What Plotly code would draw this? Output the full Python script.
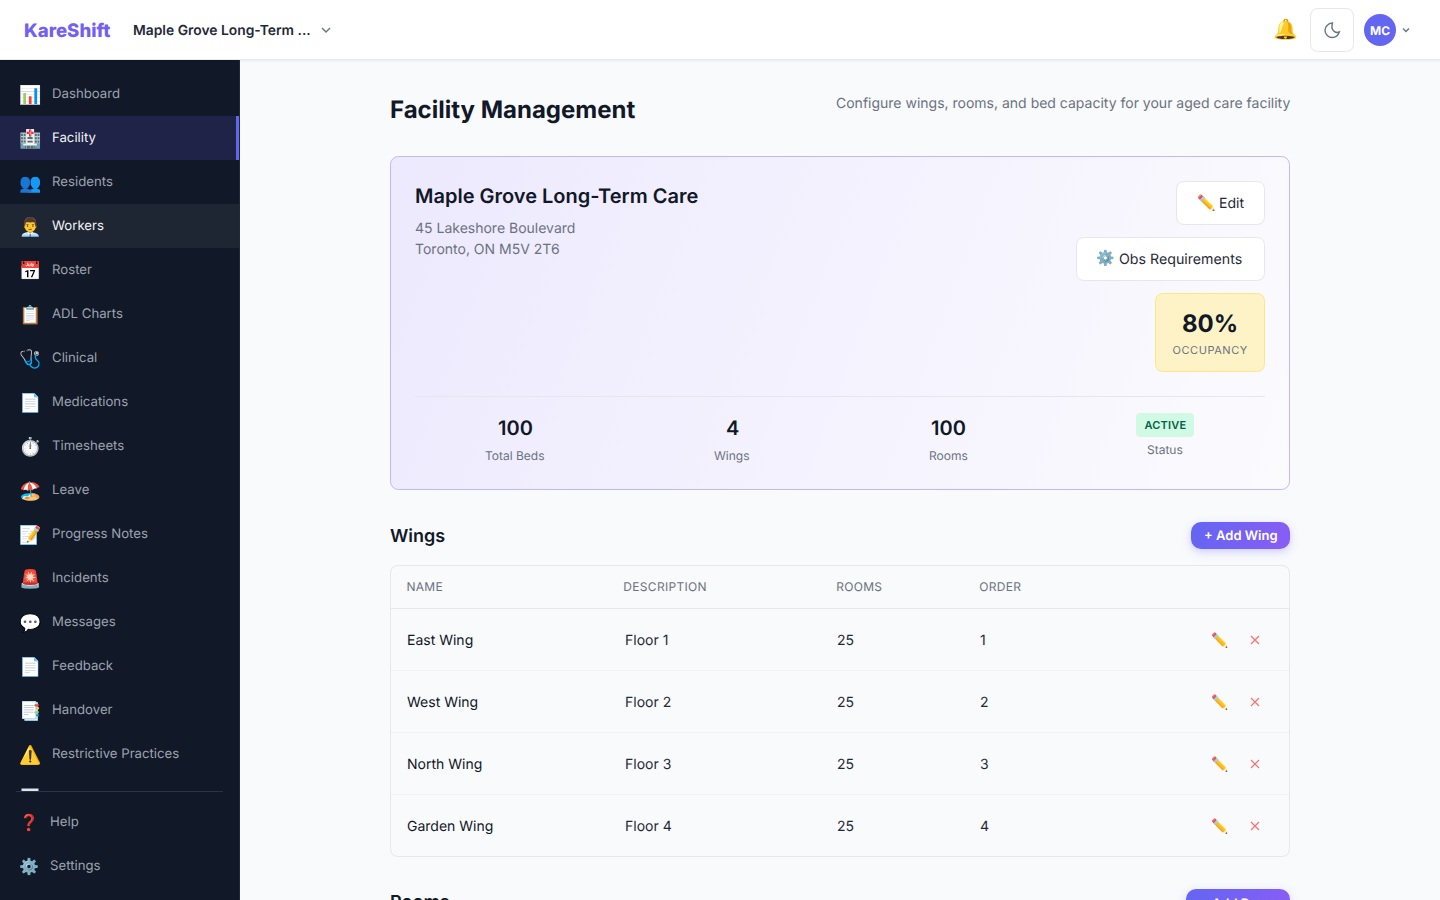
from urllib.parse import quote
import plotly.graph_objects as go

W, H = 1440, 900
FONT = "Inter"
EMOJI = "Noto Color Emoji, Noto Sans"

nav_labels = ["Dashboard", "Facility", "Residents", "Workers", "Roster", "ADL Charts", "Clinical",
              "Medications", "Timesheets", "Leave", "Progress Notes", "Incidents", "Messages",
              "Feedback", "Handover", "Restrictive Practices"]
nav_icons = ["📊", "🏥", "👥", "👨‍💼", "📅", "📋", "🩺", "📄", "⏱️", "🏖️", "📝", "🚨", "💬", "📄", "📑", "⚠️"]
foot_labels = ["Help", "Settings"]
foot_icons = ["❓", "⚙️"]

stat_values = ["100", "4", "100"]
stat_labels = ["Total Beds", "Wings", "Rooms"]

wing_columns = ["NAME", "DESCRIPTION", "ROOMS", "ORDER"]
wing_names = ["East Wing", "West Wing", "North Wing", "Garden Wing"]
wing_floors = ["Floor 1", "Floor 2", "Floor 3", "Floor 4"]
wing_rooms = ["25", "25", "25", "25"]
wing_order = ["1", "2", "3", "4"]

PAGE = "#f9fafc"
SIDE = "#111827"
shapes = []
notes = []
images = []


def round_path(x0, y0, x1, y1, r):
    return (f"M{x0+r},{y0} L{x1-r},{y0} Q{x1},{y0} {x1},{y0+r} L{x1},{y1-r} Q{x1},{y1} {x1-r},{y1} "
            f"L{x0+r},{y1} Q{x0},{y1} {x0},{y1-r} L{x0},{y0+r} Q{x0},{y0} {x0+r},{y0} Z")


def rect(x0, y0, x1, y1, fill, line=None, r=0, lw=1):
    border = dict(color=line or fill, width=lw if line else 0)
    if r:
        shapes.append(dict(type="path", path=round_path(x0, y0, x1, y1, r), fillcolor=fill, line=border, layer="below"))
    else:
        shapes.append(dict(type="rect", x0=x0, y0=y0, x1=x1, y1=y1, fillcolor=fill, line=border, layer="below"))


def text(x, y, s, size=14, color="#111827", weight=400, anchor="left", font=FONT, va="middle"):
    notes.append(dict(x=x, y=y, text=s, showarrow=False, xanchor=anchor, yanchor=va, borderpad=0, borderwidth=0,
                      font=dict(family=font, size=size, color=color, weight=weight)))


def hline(x0, x1, y, color):
    shapes.append(dict(type="line", x0=x0, x1=x1, y0=y, y1=y, line=dict(color=color, width=1), layer="below"))


def stroke(path, color, width=1.5):
    shapes.append(dict(type="path", path=path, line=dict(color=color, width=width), layer="above"))


def chevron(cx, cy, half, color):
    stroke(f"M{cx-half},{cy-half/2} L{cx},{cy+half/2} L{cx+half},{cy-half/2}", color, 1.4)


# gradient panels go in as svg images, plotly shapes only have flat fills
# paper refs put them under the shapes
def gradient(x0, y0, x1, y1, r, c0, c1, line=None, shadow=None):
    w, h = x1 - x0, y1 - y0
    p = 14 if shadow else 0
    inset = 0.5 if line else 0
    border = f'stroke="{line}" stroke-width="1"' if line else ""
    blur = ""
    if shadow:
        blur = (f'<filter id="b" x="-30%" y="-80%" width="160%" height="260%"><feGaussianBlur stdDeviation="4"/></filter>'
                f'<rect x="{p}" y="{p+3}" width="{w}" height="{h}" rx="{r}" fill="{shadow}" filter="url(#b)"/>')
    svg = (f'<svg xmlns="http://www.w3.org/2000/svg" width="{w+2*p}" height="{h+2*p}" viewBox="0 0 {w+2*p} {h+2*p}">'
           f'<defs><linearGradient id="g" gradientUnits="userSpaceOnUse" x1="{p}" y1="{p}" x2="{p+w}" y2="{p+w*0.37:.0f}">'
           f'<stop offset="0" stop-color="{c0}"/><stop offset="1" stop-color="{c1}"/></linearGradient></defs>{blur}'
           f'<rect x="{p+inset}" y="{p+inset}" width="{w-2*inset}" height="{h-2*inset}" rx="{r}" fill="url(#g)" {border}/></svg>')
    images.append(dict(source="data:image/svg+xml," + quote(svg), xref="paper", yref="paper",
                       x=(x0 - p) / W, y=1 - (y0 - p) / H, sizex=(w + 2 * p) / W, sizey=(h + 2 * p) / H,
                       sizing="stretch", xanchor="left", yanchor="top", layer="below"))


# top bar
for i, c in enumerate(["#eef0f3", "#f3f4f7", "#f7f8fa"]):
    hline(240, W, 60.5 + i, c)
rect(0, 0, W, 59, "#ffffff")
hline(0, W, 59.5, "#e9ebef")
text(24, 30, "KareShift", 18.6, "#7160f3", 800)
text(133, 30, "Maple Grove Long-Term ...", 13.85, "#1f2937", 600)
chevron(326, 30, 4, "#6b7280")
text(1285, 29, "🔔", 20, "#f59e0b", 400, "center", EMOJI)
rect(1310.5, 8.5, 1353.5, 51.5, "#ffffff", "#e5e7eb", 8)
stroke("M1332.5,23 C1328,23.2 1325,26.8 1325,30.2 C1325,34.5 1328.5,37.5 1332.3,37.5 "
       "C1335.5,37.5 1338.2,35.2 1339.3,32 C1335,33.8 1330.3,30 1332.5,23 Z", "#6b7280", 1.4)
shapes.append(dict(type="circle", x0=1364, y0=14, x1=1396, y1=46, fillcolor="#6366f1", line=dict(width=0), layer="below"))
text(1380, 30, "MC", 12, "#ffffff", 700, "center")
chevron(1406, 30, 3, "#6b7280")

# sidebar
rect(0, 60, 240, H, SIDE)
rect(239, 60, 240, H, "#1f2937")
rect(0, 116, 239, 160, "#1e2347")
rect(236, 116, 239, 160, "#6366f1")
rect(0, 204, 239, 248, "#1f2633")
for i, (icon, label) in enumerate(zip(nav_icons, nav_labels)):
    y = 93 + 44 * i
    text(30, y + 1, icon, 18, "#ffffff", 400, "center", EMOJI)
    active = label in ("Facility", "Workers")
    text(52, y, label, 13.2, "#f3f4f6" if active else "#9ca3af", 400)
rect(21.5, 788.5, 38.5, 791, "#dfe3ea")  # top of the next nav icon, scrolled away under the footer
hline(16, 223, 791.5, "#2b3444")
for i, (icon, label) in enumerate(zip(foot_icons, foot_labels)):
    y = 821 + 44 * i
    text(29, y + 1, icon, 16, "#dc2626" if i == 0 else "#9ca3af", 400, "center", EMOJI)
    text(50, y, label, 13.2, "#9ca3af")

# heading
text(390, 109, "Facility Management", 24, "#111827", 700)
text(1290, 102, "Configure wings, rooms, and bed capacity for your aged care facility", 14, "#6b7280", 400, "right")

# facility card
gradient(390, 156, 1290, 490, 8, "#ede9fe", "#fbfbfe", "#c4b5fd")
text(415, 196, "Maple Grove Long-Term Care", 20, "#111827", 600)
text(415, 227, "45 Lakeshore Boulevard", 14, "#6b7280")
text(415, 248, "Toronto, ON M5V 2T6", 14, "#6b7280")
rect(1176.5, 181.5, 1264.5, 224.5, "#ffffff", "#e5e7eb", 8)
text(1206, 202, "✏️", 15, "#111827", 400, "center", EMOJI)
text(1219, 202, "Edit", 14, "#1f2937", 400)
rect(1076.5, 237.5, 1264.5, 280.5, "#ffffff", "#e5e7eb", 8)
text(1105, 258, "⚙️", 15, "#6b7280", 400, "center", EMOJI)
text(1119, 258, "Obs Requirements", 14.2, "#1f2937", 400)
rect(1155.5, 293.5, 1264.5, 371.5, "#fef3c7", "#fde68a", 8)
text(1210, 323, "80%", 24, "#111827", 700, "center")
text(1210, 350, "OCCUPANCY", 11, "#6b7280", 400, "center")
hline(415, 1265, 396.5, "#e6e6ef")
for x, v, l in zip([515, 732, 948], stat_values, stat_labels):
    text(x, 428, v, 20, "#111827", 600, "center")
    text(x, 455, l, 12, "#6b7280", 400, "center")
rect(1136, 413, 1194, 437, "#d1fae5", None, 4)
text(1165, 425, "ACTIVE", 11, "#065f46", 600, "center")
text(1165, 449.5, "Status", 12, "#6b7280", 400, "center")

# wings table
text(390, 535, "Wings", 18, "#111827", 600)
gradient(1191, 522, 1290, 549, 10, "#6366f1", "#8b5cf6", shadow="rgba(99,102,241,0.3)")
text(1240.5, 534.5, "+ Add Wing", 13, "#ffffff", 600, "center")
rect(390.5, 565.5, 1289.5, 856.5, PAGE, "#e5e7eb", 8)
for x, c in zip([407, 625, 837, 980], wing_columns):
    text(x, 586, c, 12, "#6b7280", 400)
hline(391, 1289, 608.5, "#e5e7eb")
for i in range(4):
    y = 640 + 62 * i
    if i:
        hline(391, 1289, y - 31.5, "#f1f2f5")
    text(407, y - 1, wing_names[i], 14, "#111827", 400)
    text(625, y - 1, wing_floors[i], 14, "#1f2937")
    text(836.5, y - 1, wing_rooms[i], 14, "#1f2937")
    text(980, y - 1, wing_order[i], 14, "#1f2937")
    text(1219, y, "✏️", 14, "#111827", 400, "center", EMOJI)
    stroke(f"M{1251},{y-4} L{1259},{y+4} M{1259},{y-4} L{1251},{y+4}", "#f87171", 1.2)

# rooms section, cut off by the window as in the original page
text(390, 891, "Rooms", 18, "#111827", 600, va="top")
gradient(1186, 889, 1290, 916, 10, "#6366f1", "#8b5cf6", shadow="rgba(99,102,241,0.3)")
text(1238, 895, "+ Add Room", 13, "#ffffff", 600, "center", va="top")

fig = go.Figure()
fig.update_layout(
    width=W, height=H, margin=dict(l=0, r=0, t=0, b=0),
    paper_bgcolor=PAGE, plot_bgcolor="rgba(0,0,0,0)",
    xaxis=dict(range=[0, W], visible=False, fixedrange=True),
    yaxis=dict(range=[H, 0], visible=False, fixedrange=True),
    shapes=shapes, annotations=notes, images=images, showlegend=False,
)

# page margin off, unhinted text and the letter spacing of the uppercase labels
post = """
document.documentElement.style.overflow = 'hidden';
document.body.style.margin = '0';
var spaced = {'OCCUPANCY': '0.55px', 'ACTIVE': '0.2px', 'NAME': '0.3px', 'DESCRIPTION': '0.3px', 'ROOMS': '0.3px', 'ORDER': '0.3px'};
document.querySelectorAll('text').forEach(function (t) {
    t.style.textRendering = 'geometricPrecision';
    if (spaced[t.textContent]) t.style.letterSpacing = spaced[t.textContent];
});
"""
fig.write_html("out.html", config={"displayModeBar": False}, post_script=post)
